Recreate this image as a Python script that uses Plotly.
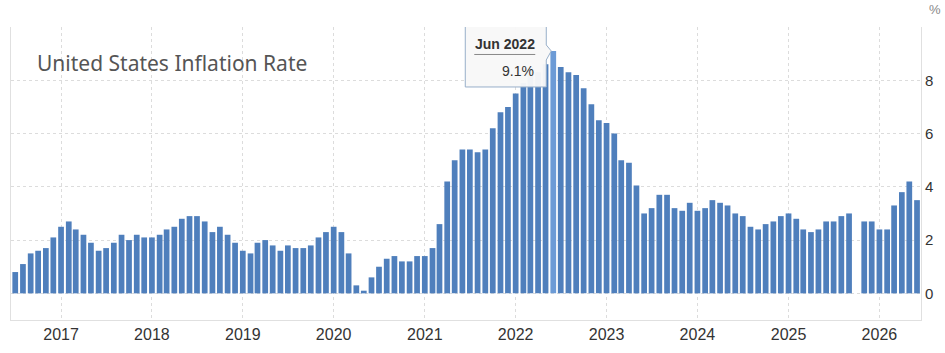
import plotly.graph_objects as go
import pandas as pd

# Monthly data, Jul 2016 .. Jun 2026
start_month = "2016-07-01"
values = [
    0.8, 1.1, 1.5, 1.6, 1.7, 2.1,                                   # 2016 Jul-Dec
    2.5, 2.7, 2.4, 2.2, 1.9, 1.6, 1.7, 1.9, 2.2, 2.0, 2.2, 2.1,     # 2017
    2.1, 2.2, 2.4, 2.5, 2.8, 2.9, 2.9, 2.7, 2.3, 2.5, 2.2, 1.9,     # 2018
    1.6, 1.5, 1.9, 2.0, 1.8, 1.6, 1.8, 1.7, 1.7, 1.8, 2.1, 2.3,     # 2019
    2.5, 2.3, 1.5, 0.3, 0.1, 0.6, 1.0, 1.3, 1.4, 1.2, 1.2, 1.4,     # 2020
    1.4, 1.7, 2.6, 4.2, 5.0, 5.4, 5.4, 5.3, 5.4, 6.2, 6.8, 7.0,     # 2021
    7.5, 7.9, 8.5, 8.3, 8.6, 9.1, 8.5, 8.3, 8.2, 7.7, 7.1, 6.5,     # 2022
    6.4, 6.0, 5.0, 4.9, 4.05, 3.0, 3.2, 3.7, 3.7, 3.2, 3.1, 3.4,    # 2023
    3.1, 3.2, 3.5, 3.4, 3.3, 3.0, 2.9, 2.5, 2.4, 2.6, 2.7, 2.9,     # 2024
    3.0, 2.8, 2.4, 2.3, 2.4, 2.7, 2.7, 2.9, 3.0, None, 2.7, 2.7,    # 2025
    2.4, 2.4, 3.3, 3.8, 4.2, 3.5,                                   # 2026 Jan-Jun
]
dates = pd.date_range(start_month, periods=len(values), freq="MS")

highlight_label = "Jun 2022"
highlight_date = pd.Timestamp("2022-06-01")
highlight_value = 9.1

year_ticks = [f"{y}-01-01" for y in range(2017, 2027)]
year_labels = [str(y) for y in range(2017, 2027)]
y_ticks = [0, 2, 4, 6, 8, 10]
y_labels = ["0", "2", "4", "6", "8", ""]

BAR = "#4f7fbc"
BAR_HI = "#6c9bd6"
colors = [BAR_HI if d == highlight_date else BAR for d in dates]

fig = go.Figure()
fig.add_trace(go.Bar(
    x=dates, y=values, marker_color=colors, marker_line_width=0,
    width=23 * 86400000, hoverinfo="skip",
))

fig.update_layout(
    width=945, height=353,
    margin=dict(l=10, r=24, t=27, b=30),
    paper_bgcolor="white", plot_bgcolor="white",
    showlegend=False,
    font=dict(family="Arial, Liberation Sans, sans-serif", color="#333", size=14),
    xaxis=dict(
        type="date", range=["2016-06-14", "2026-06-17"],
        tickvals=year_ticks, ticktext=year_labels,
        showgrid=True, gridcolor="#dcdcdc", griddash="dot", gridwidth=1,
        showline=True, linecolor="#e0e0e0", linewidth=1,
        ticks="", tickfont=dict(size=16, color="#333"), zeroline=False,
        ticklabelstandoff=0,
    ),
    yaxis=dict(
        range=[-1, 10], side="right",
        tickvals=y_ticks, ticktext=y_labels,
        showgrid=True, gridcolor="#dcdcdc", griddash="dot", gridwidth=1,
        showline=True, mirror=True, linecolor="#e0e0e0", linewidth=1,
        ticks="", tickfont=dict(size=15, color="#333"), zeroline=False,
    ),
    hovermode=False,
)

# Chart title inside the plot
fig.add_annotation(
    xref="paper", yref="paper", x=0.0263, y=0.878, xanchor="left", yanchor="middle",
    text="United States Inflation Rate", showarrow=False,
    font=dict(family="Noto Sans, Open Sans, sans-serif", size=21, color="#555"),
)
# unit label
fig.add_annotation(
    xref="paper", yref="paper", x=1.0, y=1.0, xanchor="left", yanchor="bottom",
    xshift=6, yshift=8, text="%", showarrow=False,
    font=dict(family="Arial, Liberation Sans, sans-serif", size=13, color="#888"),
)

# Tooltip callout anchored at the highlighted bar
fig.add_shape(
    type="path", xref="x", yref="y", xsizemode="pixel", ysizemode="pixel",
    xanchor=highlight_date, yanchor=highlight_value,
    path="M -88,26 L -7,26 L -7,6 L -2,0 L -7,-9 L -7,-36 L -88,-36 Z",
    fillcolor="rgba(248,248,248,0.96)", line=dict(color="#98afc9", width=1),
    layer="above",
)
fig.add_shape(
    type="line", xref="x", yref="y", xsizemode="pixel", ysizemode="pixel",
    xanchor=highlight_date, yanchor=highlight_value,
    x0=-79, x1=-18, y0=-3.5, y1=-3.5,
    line=dict(color="#888", width=1), layer="above",
)
fig.add_annotation(
    xref="x", yref="y", x=highlight_date, y=highlight_value,
    xshift=-48.5, yshift=7, xanchor="center", yanchor="middle",
    text=f"<b>{highlight_label}</b>", showarrow=False,
    font=dict(family="Arial, Liberation Sans, sans-serif", size=14, color="#333"),
)
fig.add_annotation(
    xref="x", yref="y", x=highlight_date, y=highlight_value,
    xshift=-17.5, yshift=-20, xanchor="right", yanchor="middle",
    text=f"{highlight_value}%", showarrow=False,
    font=dict(family="Arial, Liberation Sans, sans-serif", size=14, color="#333"),
)

fig.write_html("out.html")
